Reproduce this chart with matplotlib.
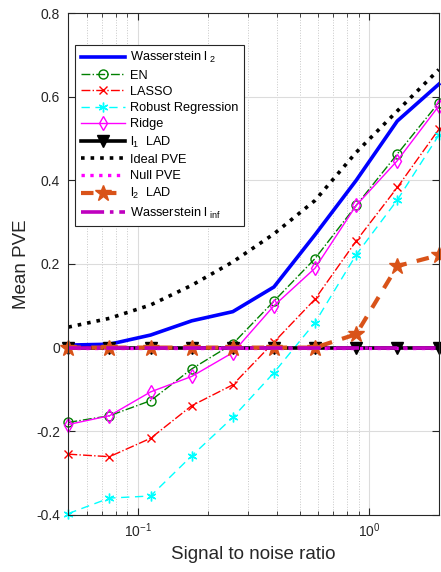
import numpy as np
import matplotlib
matplotlib.use("Agg")
import matplotlib.pyplot as plt
from matplotlib.ticker import FixedLocator, LogLocator, NullFormatter

plt.rcParams['font.family'] = ['Liberation Sans', 'DejaVu Sans']
plt.rcParams['mathtext.fontset'] = 'custom'
plt.rcParams['mathtext.rm'] = 'Liberation Sans'
plt.rcParams['mathtext.it'] = 'Liberation Sans'

# signal to noise ratio (x)
snr = [0.05, 0.0753, 0.1134, 0.1708, 0.2572, 0.3873, 0.5833, 0.8785, 1.3229, 2.0]

# mean PVE per method
wass_l2 = [0.006, 0.008, 0.030, 0.064, 0.086, 0.145, 0.270, 0.400, 0.542, 0.630]
en = [-0.179, -0.163, -0.127, -0.051, 0.009, 0.111, 0.213, 0.340, 0.463, 0.586]
lasso = [-0.255, -0.261, -0.217, -0.139, -0.089, 0.013, 0.116, 0.255, 0.383, 0.522]
robust = [-0.397, -0.360, -0.355, -0.259, -0.167, -0.060, 0.060, 0.222, 0.353, 0.508]
ridge = [-0.184, -0.163, -0.106, -0.069, -0.012, 0.100, 0.190, 0.340, 0.447, 0.578]
l1_lad = [0, 0, 0, 0, 0, 0, 0, 0, 0, 0]
ideal = [0.049, 0.070, 0.102, 0.149, 0.205, 0.272, 0.352, 0.467, 0.566, 0.665]
null_pve = [0, 0, 0, 0, 0, 0, 0, 0, 0, 0]
l2_lad = [0, 0, 0, 0, 0, 0, 0, 0.032, 0.195, 0.221]
wass_inf = [0, 0, 0, 0, 0, 0, 0, 0, 0, 0]

fig = plt.figure(figsize=(4.41, 5.72), dpi=100)
ax = fig.add_axes([0.155, 0.1, 0.84, 0.877])

ax.plot(snr, wass_l2, '-', color='#0000ff', lw=2.6, label='Wasserstein l$_{\\ 2}$', clip_on=False)
ax.plot(snr, en, '-.', color='#008000', lw=1, marker='o', ms=6.5, mfc='none', mew=1,
        label='EN', clip_on=False)
ax.plot(snr, lasso, '-.', color='#ff0000', lw=1, marker='x', ms=6, mew=1,
        label='LASSO', clip_on=False)
ax.plot(snr, robust, '--', color='#00ffff', lw=1, marker=(6, 2, 0), ms=7, mew=1,
        dashes=(6, 4), label='Robust Regression', clip_on=False)
ax.plot(snr, ridge, '-', color='#ff00ff', lw=1, marker='d', ms=7.5, mfc='none', mew=1,
        label='Ridge', clip_on=False)
ax.plot(snr, l1_lad, '-', color='black', lw=2.6, marker='v', ms=8,
        label='l$_1$  LAD', clip_on=False)
ax.plot(snr, ideal, ':', color='black', lw=2.6, label='Ideal PVE', clip_on=False)
ax.plot(snr, null_pve, ':', color='#ff00ff', lw=2.4, label='Null PVE', clip_on=False)
ax.plot(snr, l2_lad, '--', color='#d95319', lw=3, marker='*', ms=12, dashes=(3, 2.5),
        label='l$_2$  LAD', clip_on=False)
ax.plot(snr, wass_inf, '-.', color='#bf00bf', lw=2.6, label='Wasserstein l$_{\\ inf}$',
        clip_on=False)

ax.set_xscale('log')
ax.set_xlim(0.05, 2)
ax.set_ylim(-0.4, 0.8)
ax.yaxis.set_major_locator(FixedLocator([-0.4, -0.2, 0, 0.2, 0.4, 0.6, 0.8]))
ax.set_yticklabels(['-0.4', '-0.2', '0', '0.2', '0.4', '0.6', '0.8'])
ax.xaxis.set_major_locator(LogLocator(base=10))
ax.xaxis.set_minor_locator(LogLocator(base=10, subs=np.arange(2, 10)))
ax.xaxis.set_minor_formatter(NullFormatter())

ax.grid(True, which='major', color='#dcdcdc', lw=0.8, ls='-')
ax.grid(True, which='minor', axis='x', color='#c8c8c8', lw=0.7, ls=':')
ax.set_axisbelow(True)

ax.tick_params(which='both', direction='in', top=True, right=True, colors='#262626',
               labelsize=10)
ax.tick_params(axis='y', pad=6)
ax.tick_params(axis='x', pad=5)
ax.tick_params(which='major', length=5)
ax.tick_params(which='minor', length=3)
for s in ax.spines.values():
    s.set_color('#262626')
    s.set_linewidth(0.8)

ax.set_xlabel('Signal to noise ratio', fontsize=13.5, color='#262626')
ax.set_ylabel('Mean PVE', fontsize=13.5, color='#262626', labelpad=4)

leg = ax.legend(loc='upper left', bbox_to_anchor=(0.019, 0.936), fontsize=9.2,
                fancybox=False, framealpha=1, edgecolor='#262626', handlelength=3.5,
                labelspacing=0.33, borderpad=0.4, handletextpad=0.4, borderaxespad=0)
leg.get_frame().set_linewidth(0.8)

fig.savefig('out.png', dpi=100)
